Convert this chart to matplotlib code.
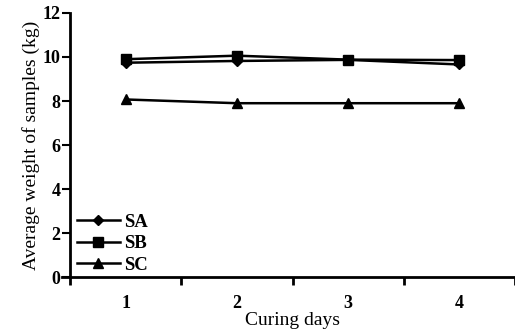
import numpy as np
import matplotlib
matplotlib.use("Agg")
import matplotlib.pyplot as plt

plt.rcParams['font.family'] = ['Liberation Serif', 'DejaVu Serif']

days = [1, 2, 3, 4]
sa = [9.74, 9.82, 9.87, 9.66]
sb = [9.90, 10.06, 9.88, 9.86]
sc = [8.07, 7.90, 7.90, 7.90]

fig = plt.figure(figsize=(5.15, 3.33), dpi=100)
ax = fig.add_axes([0.136, 0.168, 0.864, 0.793])

ax.plot(days, sa, color='black', lw=1.8, marker='D', ms=5, label='SA')
ax.plot(days, sb, color='black', lw=1.8, marker='s', ms=6.5, label='SB')
ax.plot(days, sc, color='black', lw=1.8, marker='^', ms=7.5, label='SC')

ax.set_xlim(0.5, 4.5)
ax.set_ylim(0, 12)
ax.set_yticks([0, 2, 4, 6, 8, 10, 12])
ax.set_xticks(days)
ax.set_xticks([0.5, 1.5, 2.5, 3.5, 4.5], minor=True)
ax.tick_params(axis='x', which='major', length=0, pad=13, labelsize=13)
ax.tick_params(axis='x', which='minor', length=6, width=2, direction='out')
ax.tick_params(axis='y', length=6, width=1.5, direction='out', labelsize=13, pad=1)
for t in ax.get_xticklabels() + ax.get_yticklabels():
    t.set_fontweight('bold')

for s in ['top', 'right']:
    ax.spines[s].set_visible(False)
ax.spines['left'].set_linewidth(2)
ax.spines['bottom'].set_linewidth(2)
ax.spines['bottom'].set_bounds(0.43, 4.5)

ax.set_xlabel('Curing days', fontsize=14, labelpad=0)
ax.set_ylabel('Average weight of samples (kg)', fontsize=14, labelpad=2)

leg = ax.legend(loc='lower left', frameon=False, prop={'size': 13.5, 'weight': 'bold'},
                handlelength=2.3, handletextpad=0.25, labelspacing=0.22,
                borderaxespad=0.0, bbox_to_anchor=(-0.002, -0.015))

fig.savefig('out.png', dpi=100)
